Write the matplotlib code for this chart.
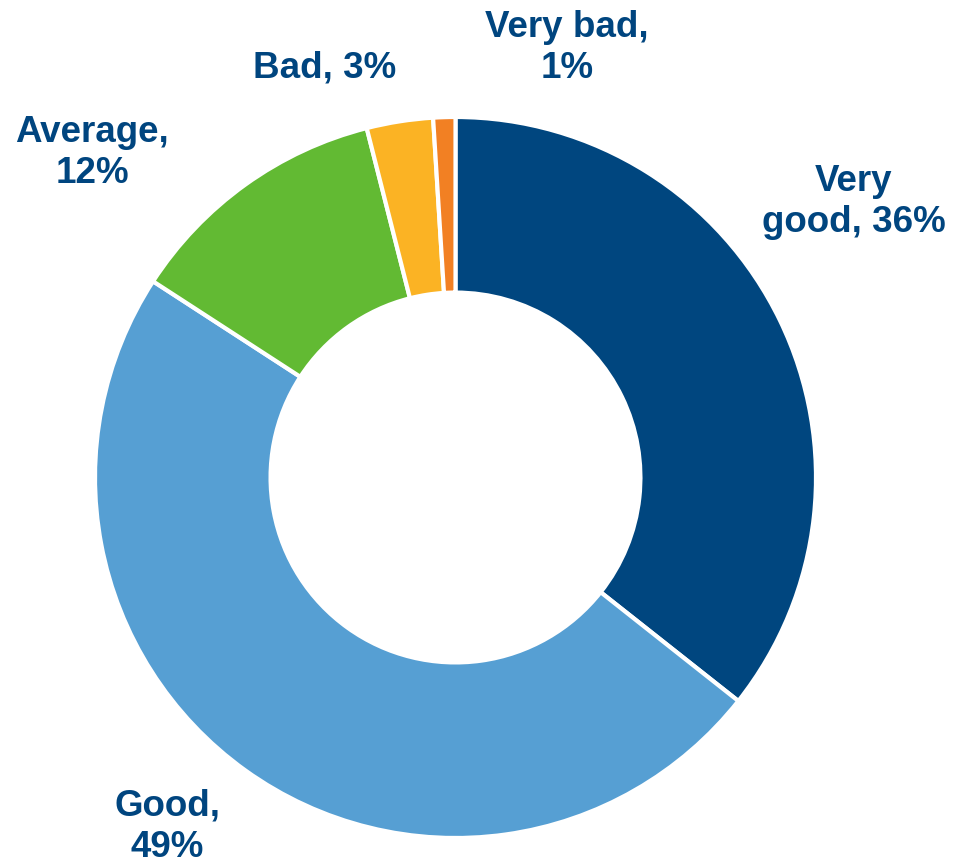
import matplotlib
matplotlib.use('Agg')
import matplotlib.pyplot as plt

categories = ['Very good', 'Good', 'Average', 'Bad', 'Very bad']
shares = [36, 49, 12, 3, 1]
label_text = ['Very\ngood, {}%', 'Good,\n{}%', 'Average,\n{}%', 'Bad, {}%', 'Very bad,\n{}%']
colors = ['#00467F', '#569FD3', '#62BA33', '#FBB324', '#F28023']

# figure geometry in pixels: donut centre and outer radius
W, H = 954, 863
cx, cy, R = 455.5, 477.5, 360.5

# label centres in pixels (from the top-left corner)
label_px = [(854, 202), (167, 827), (92, 153), (325, 68), (567, 48)]

plt.rcParams['font.family'] = ['Liberation Sans', 'DejaVu Sans']

fig = plt.figure(figsize=(W / 100, H / 100), dpi=100)
ax = fig.add_axes([0, 0, 1, 1])

ax.pie(shares, colors=colors, startangle=90, counterclock=False, radius=1,
       wedgeprops=dict(width=0.487, edgecolor='white', linewidth=3))

for text, v, (px, py) in zip(label_text, shares, label_px):
    ax.text((px - cx) / R, (cy - py) / R, text.format(v), ha='center', va='center',
            fontsize=26.5, fontweight='bold', color='#00457F', linespacing=1.24)

ax.set_xlim(-cx / R, (W - cx) / R)
ax.set_ylim((cy - H) / R, cy / R)
ax.set_aspect('equal')
ax.axis('off')

fig.savefig('out.png', dpi=100, facecolor='white')
